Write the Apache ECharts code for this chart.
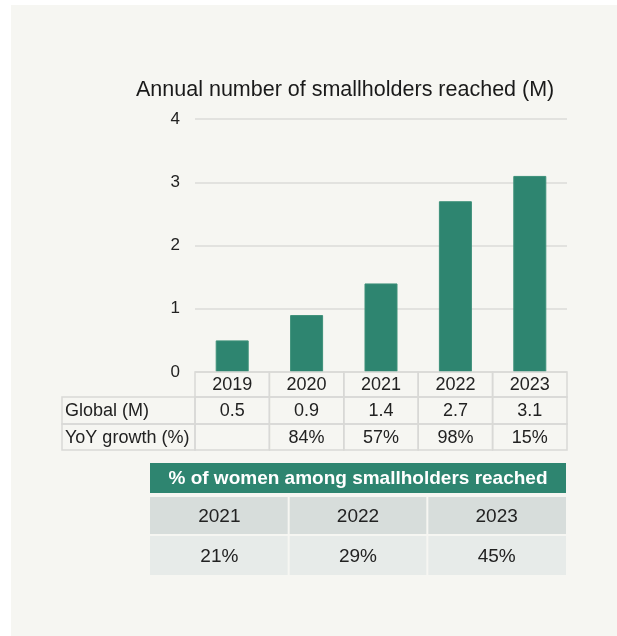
<!DOCTYPE html>
<html>
<head>
<meta charset="utf-8">
<script src="https://cdn.jsdelivr.net/npm/echarts@6/dist/echarts.min.js"></script>
<style>
  html, body { margin: 0; padding: 0; background: #ffffff; }
  #panel { position: absolute; left: 11px; top: 5px; width: 606px; height: 631px; background: #f6f6f2; }
  #chart { position: absolute; left: 0; top: 0; width: 617px; height: 636px; }
</style>
</head>
<body>
<div id="panel"></div>
<div id="chart"></div>
<script>
// Smallholders reached per year (millions) and year-on-year growth
const years = ['2019', '2020', '2021', '2022', '2023'];
const globalMillions = [0.5, 0.9, 1.4, 2.7, 3.1];
const yoyGrowthPct = [null, 84, 57, 98, 15];
const rowLabels = ['Global (M)', 'YoY growth (%)'];

// Share of women among smallholders reached
const womenYears = ['2021', '2022', '2023'];
const womenSharePct = [21, 29, 45];

const FONT = '"Liberation Sans", Arial, Helvetica, sans-serif';
const GREEN = '#2e8570';
const BORDER = '#d9d9d6';
const INK = '#222222';

const chart = echarts.init(document.getElementById('chart'), null, { renderer: 'canvas' });

// Data table under the bars: one column per category, aligned to the x axis bands
function renderDataTable(params, api) {
  const i = api.value(0);
  const base = api.coord([i, 0]);
  const bw = api.size([1, 0])[0];
  const x0 = base[0] - bw / 2;
  const y0 = base[1];
  const rowEdges = [0, 25, 52, 78];
  const cellText = [
    years[i],
    globalMillions[i].toFixed(1),
    yoyGrowthPct[i] == null ? '' : yoyGrowthPct[i] + '%'
  ];
  const children = [];
  for (let r = 0; r < 3; r++) {
    const top = y0 + rowEdges[r];
    const h = rowEdges[r + 1] - rowEdges[r];
    children.push({
      type: 'rect',
      shape: { x: x0, y: top, width: bw, height: h },
      style: { fill: 'none', stroke: BORDER, lineWidth: 1.5 }
    });
    children.push({
      type: 'text',
      style: {
        x: base[0], y: top + h / 2 + 1, text: cellText[r],
        align: 'center', verticalAlign: 'middle',
        font: '18px ' + FONT, fill: INK
      }
    });
  }
  if (i === 0) {
    const labelLeft = 62;
    for (let r = 1; r < 3; r++) {
      const top = y0 + rowEdges[r];
      const h = rowEdges[r + 1] - rowEdges[r];
      children.push({
        type: 'rect',
        shape: { x: labelLeft, y: top, width: x0 - labelLeft, height: h },
        style: { fill: 'none', stroke: BORDER, lineWidth: 1.5 }
      });
      children.push({
        type: 'text',
        style: {
          x: labelLeft + 3, y: top + h / 2 + 1, text: rowLabels[r - 1],
          align: 'left', verticalAlign: 'middle',
          font: '18px ' + FONT, fill: INK
        }
      });
    }
  }
  return { type: 'group', children: children };
}

// Women share table: green header across the grid, then year row and value row
function renderWomenTable(params, api) {
  const i = api.value(0);
  const cs = params.coordSys;
  const cx = api.coord([i, 0])[0];
  const bw = api.size([1, 0])[0];
  const x0 = cx - bw / 2;
  const headerH = 30;
  const yearTop = cs.y + headerH + 4;
  const yearH = 37;
  const valTop = yearTop + yearH + 2;
  const valH = cs.y + cs.height - valTop;
  const gapL = i === 0 ? 0 : 1;
  const gapR = i === womenYears.length - 1 ? 0 : 1;
  const children = [
    {
      type: 'rect',
      shape: { x: x0 + gapL, y: yearTop, width: bw - gapL - gapR, height: yearH },
      style: { fill: '#d7dddb' }
    },
    {
      type: 'text',
      style: {
        x: cx, y: yearTop + yearH / 2 + 1, text: womenYears[i],
        align: 'center', verticalAlign: 'middle', font: '19px ' + FONT, fill: INK
      }
    },
    {
      type: 'rect',
      shape: { x: x0 + gapL, y: valTop, width: bw - gapL - gapR, height: valH },
      style: { fill: '#e7ebe9' }
    },
    {
      type: 'text',
      style: {
        x: cx, y: valTop + valH / 2 + 1, text: womenSharePct[i] + '%',
        align: 'center', verticalAlign: 'middle', font: '19px ' + FONT, fill: INK
      }
    }
  ];
  if (i === 0) {
    children.push({
      type: 'rect',
      shape: { x: cs.x, y: cs.y, width: cs.width, height: headerH },
      style: { fill: GREEN }
    });
    children.push({
      type: 'text',
      style: {
        x: cs.x + cs.width / 2, y: cs.y + headerH / 2 + 1,
        text: '% of women among smallholders reached',
        align: 'center', verticalAlign: 'middle',
        font: 'bold 19px ' + FONT, fill: '#ffffff'
      }
    });
  }
  return { type: 'group', children: children };
}

chart.setOption({
  animation: false,
  backgroundColor: 'transparent',
  textStyle: { fontFamily: FONT },
  title: {
    text: 'Annual number of smallholders reached (M)',
    left: 136,
    top: 79,
    padding: 0,
    textStyle: { fontSize: 21.5, fontWeight: 'normal', color: '#1a1a1a', fontFamily: FONT }
  },
  grid: [
    { left: 195, right: 50, top: 119, bottom: 264 },
    { left: 150, right: 51, top: 463, height: 112 }
  ],
  xAxis: [
    {
      type: 'category', gridIndex: 0, data: years,
      axisLine: { show: false }, axisTick: { show: false }, axisLabel: { show: false }
    },
    {
      type: 'category', gridIndex: 1, data: womenYears,
      axisLine: { show: false }, axisTick: { show: false }, axisLabel: { show: false }
    }
  ],
  yAxis: [
    {
      type: 'value', gridIndex: 0, min: 0, max: 4, interval: 1,
      axisLine: { show: false }, axisTick: { show: false },
      axisLabel: { fontSize: 17, color: INK, margin: 15, fontFamily: FONT },
      splitLine: { lineStyle: { color: '#e2e2df', width: 2 } }
    },
    {
      type: 'value', gridIndex: 1, min: 0, max: 1, show: false
    }
  ],
  series: [
    {
      type: 'bar',
      xAxisIndex: 0, yAxisIndex: 0,
      data: globalMillions,
      barWidth: 33,
      itemStyle: { color: GREEN, borderColor: '#3d9079', borderWidth: 1 },
      z: 3
    },
    {
      type: 'custom',
      xAxisIndex: 0, yAxisIndex: 0,
      data: years.map((y, i) => [i]),
      encode: { x: 0 },
      clip: false,
      renderItem: renderDataTable,
      z: 4
    },
    {
      type: 'custom',
      xAxisIndex: 1, yAxisIndex: 1,
      data: womenYears.map((y, i) => [i]),
      encode: { x: 0 },
      clip: false,
      renderItem: renderWomenTable,
      z: 4
    }
  ]
});
</script>
</body>
</html>
